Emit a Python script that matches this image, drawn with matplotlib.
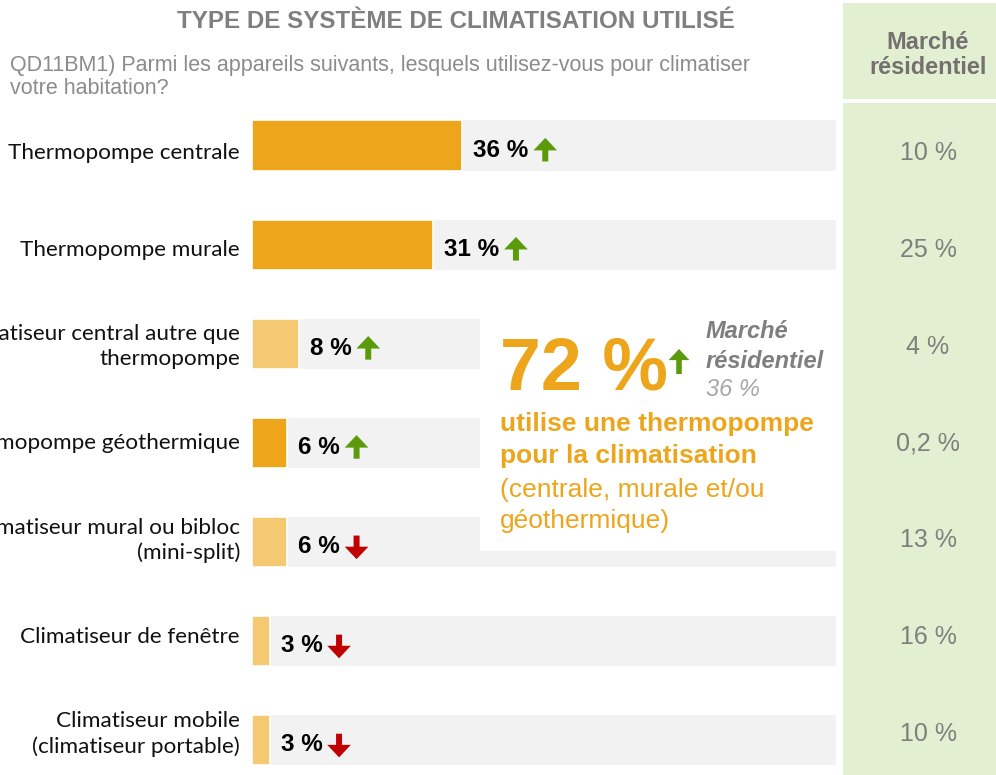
import numpy as np
import matplotlib
matplotlib.use("Agg")
import matplotlib.pyplot as plt
from matplotlib.patches import Rectangle
from matplotlib.text import OffsetFrom

# ==================================
# Données
# ==================================

categories = [
    "Thermopompe centrale",
    "Thermopompe murale",
    "Climatiseur central autre que\nthermopompe",
    "Thermopompe géothermique",
    "Climatiseur mural ou bibloc\n(mini-split)",
    "Climatiseur de fenêtre",
    "Climatiseur mobile\n(climatiseur portable)",
]
values = [36, 31, 8, 6, 6, 3, 3]
is_heat_pump = [True, True, False, True, False, False, False]
trend = ["up", "up", "up", "up", "down", "down", "down"]
marche = [10, 25, 4, 0.2, 13, 16, 10]

total_hp = 72
total_hp_marche = 36

# ==================================
# Couleurs
# ==================================

ORANGE = "#EDA51C"
ORANGE_LIGHT = "#F5C872"
BAR_BG = "#F2F2F2"
GREEN_BG = "#E2EFD0"
GREEN_ARROW = "#5B9A0A"
RED_ARROW = "#C00000"
GREY_TXT = "#7F7F7F"
GREY_HEAD = "#767171"

W, H = 996, 775

fig = plt.figure(figsize=(W / 100, H / 100), dpi=100)
fig.patch.set_facecolor("white")

# ==================================
# Barres
# ==================================

bar_h = 0.505
n = len(values)
ax = fig.add_axes([252 / W, 10 / H, 584 / W, 644.5 / H])
ax.set_xlim(0, 100)
ax.set_ylim(n - 1 + bar_h / 2, -bar_h / 2)
ax.axis("off")

y = np.arange(n)
ax.barh(y, [100] * n, height=bar_h, color=BAR_BG, zorder=1)
colors = [ORANGE if hp else ORANGE_LIGHT for hp in is_heat_pump]
ax.barh(y, values, height=bar_h, color=colors, edgecolor="white",
        linewidth=1.2, zorder=2)

# encadré blanc au centre
ax.add_patch(Rectangle((39, 1.61), 61.5, 2.48, facecolor="white",
                       edgecolor="none", zorder=3))

for i, (v, t) in enumerate(zip(values, trend)):
    txt = ax.annotate(f"{v} %", xy=(v, i), xytext=(8, -3.5),
                      textcoords="offset points", ha="left", va="center",
                      fontsize=17.5, fontweight="bold", family="Liberation Sans",
                      color="black", zorder=4)
    fig.canvas.draw()
    ref = OffsetFrom(txt, (1.0, 0.5), unit="points")
    sgn = 1 if t == "up" else -1
    ax.annotate("", xy=(12, 9 * sgn), xycoords=ref,
                xytext=(12, -8 * sgn), textcoords=ref,
                arrowprops=dict(facecolor=GREEN_ARROW if t == "up" else RED_ARROW,
                                edgecolor="none", width=4.3, headwidth=17,
                                headlength=9, shrink=0), zorder=4)

# ==================================
# Couche de mise en page (pixels)
# ==================================

lay = fig.add_axes([0, 0, 1, 1])
lay.set_xlim(0, W)
lay.set_ylim(H, 0)
lay.axis("off")
lay.patch.set_alpha(0)

# colonne verte "Marché résidentiel"
lay.add_patch(Rectangle((843, 3), 160, 96, facecolor=GREEN_BG, edgecolor="none"))
lay.add_patch(Rectangle((843, 103), 160, 672, facecolor=GREEN_BG, edgecolor="none"))

lay.text(456, 22, "TYPE DE SYSTÈME DE CLIMATISATION UTILISÉ", ha="center",
         va="center", fontsize=17.4, fontweight="bold", color=GREY_TXT,
         family="Liberation Sans")
lay.text(10, 77, "QD11BM1) Parmi les appareils suivants, lesquels utilisez-vous pour climatiser\n"
         "votre habitation?", ha="left", va="center", fontsize=15.5,
         color="#8C8C8C", family="Liberation Sans", linespacing=1.15)

lay.text(928, 55, "Marché\nrésidentiel", ha="center", va="center",
         fontsize=16.9, fontweight="bold", color=GREY_HEAD,
         family="Liberation Sans", linespacing=1.15)

# libellés des catégories et valeurs du marché résidentiel, même rangée
for i, (cat, m) in enumerate(zip(categories, marche)):
    row_y = 153 + 96.83 * i
    lay.text(240, row_y, cat, ha="right", va="center", fontsize=16.2,
             family="Lato", color="#111111", linespacing=1.3)
    lab = f"{m:g}".replace(".", ",") + " %"
    lay.text(928, row_y, lab, ha="center", va="center",
             fontsize=18, color=GREY_TXT, family="Liberation Sans")

# encadré 72 %
lay.text(500, 390, f"{total_hp} %", ha="left", va="baseline", fontsize=53,
         fontweight="bold", color=ORANGE, family="Liberation Sans")
lay.annotate("", xy=(679, 349), xytext=(679, 374),
             arrowprops=dict(facecolor=GREEN_ARROW, edgecolor="none",
                             width=4, headwidth=15, headlength=8, shrink=0))
lay.text(706, 331, "Marché", ha="left", va="center", fontsize=17,
         fontweight="bold", style="italic", color=GREY_TXT,
         family="Liberation Sans")
lay.text(706, 361, "résidentiel", ha="left", va="center", fontsize=17,
         fontweight="bold", style="italic", color=GREY_TXT,
         family="Liberation Sans")
lay.text(706, 390, f"{total_hp_marche} %", ha="left", va="center",
         fontsize=17, style="italic", color="#A6A6A6",
         family="Liberation Sans")

lay.text(500, 424, "utilise une thermopompe", ha="left", va="center",
         fontsize=19, fontweight="bold", color=ORANGE, family="Liberation Sans")
lay.text(500, 456, "pour la climatisation", ha="left", va="center",
         fontsize=19, fontweight="bold", color=ORANGE, family="Liberation Sans")
lay.text(500, 490, "(centrale, murale et/ou", ha="left", va="center",
         fontsize=19, color=ORANGE, family="Liberation Sans")
lay.text(500, 521, "géothermique)", ha="left", va="center",
         fontsize=19, color=ORANGE, family="Liberation Sans")

fig.savefig("out.png", dpi=100, facecolor="white")
